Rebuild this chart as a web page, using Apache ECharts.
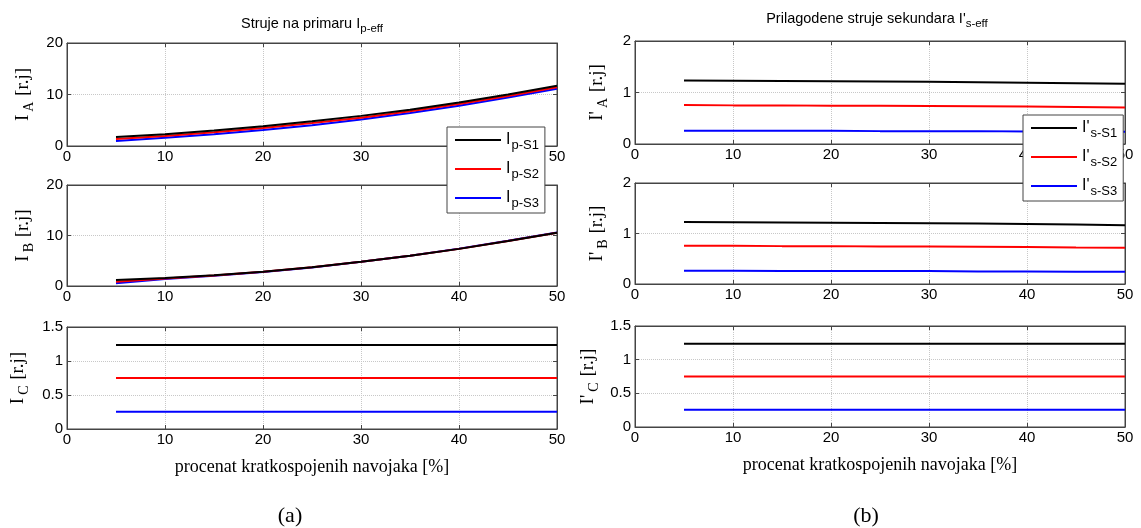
<!DOCTYPE html>
<html><head><meta charset="utf-8">
<script src="https://cdn.jsdelivr.net/npm/echarts@6/dist/echarts.min.js"></script>
<style>html,body{margin:0;padding:0;background:#fff}#c{width:1141px;height:528px}</style>
</head><body><div id="c"></div>
<script>
// ---- data ----
const xs = [5, 10, 15, 20, 25, 30, 35, 40, 45, 50];
const xTicks = [0, 10, 20, 30, 40, 50];
const leftNames = ['I|p-S1', 'I|p-S2', 'I|p-S3'];
const rightNames = ["I'|s-S1", "I'|s-S2", "I'|s-S3"];
// left: primary currents
const pA_S1 = [1.75, 2.3, 3.0, 3.85, 4.8, 5.85, 7.05, 8.45, 10.0, 11.7];
const pA_S2 = [1.35, 1.95, 2.65, 3.5, 4.45, 5.5, 6.75, 8.15, 9.7, 11.4];
const pA_S3 = [0.95, 1.6, 2.3, 3.1, 4.05, 5.15, 6.4, 7.8, 9.4, 11.1];
const pB_S1 = [1.2, 1.6, 2.15, 2.8, 3.7, 4.8, 6.0, 7.35, 8.9, 10.55];
const pB_S2 = [0.85, 1.5, 2.1, 2.8, 3.7, 4.8, 6.0, 7.35, 8.9, 10.55];
const pB_S3 = [0.55, 1.4, 2.05, 2.75, 3.65, 4.8, 6.0, 7.4, 8.95, 10.6];
const pC_S1 = [1.235, 1.235, 1.235, 1.235, 1.235, 1.235, 1.235, 1.235, 1.235, 1.235];
const pC_S2 = [0.75, 0.75, 0.75, 0.75, 0.75, 0.75, 0.75, 0.75, 0.75, 0.75];
const pC_S3 = [0.255, 0.255, 0.255, 0.255, 0.255, 0.255, 0.255, 0.255, 0.255, 0.255];
// right: adjusted secondary currents
const sA_S1 = [1.235, 1.23, 1.225, 1.22, 1.215, 1.21, 1.2, 1.19, 1.18, 1.17];
const sA_S2 = [0.755, 0.75, 0.75, 0.745, 0.745, 0.74, 0.735, 0.73, 0.72, 0.71];
const sA_S3 = [0.255, 0.255, 0.255, 0.255, 0.25, 0.25, 0.25, 0.245, 0.245, 0.24];
const sB_S1 = [1.23, 1.225, 1.22, 1.215, 1.21, 1.205, 1.2, 1.19, 1.18, 1.165];
const sB_S2 = [0.755, 0.755, 0.75, 0.75, 0.745, 0.745, 0.74, 0.735, 0.725, 0.72];
const sB_S3 = [0.26, 0.26, 0.255, 0.255, 0.255, 0.255, 0.25, 0.25, 0.245, 0.245];
const sC_S1 = [1.235, 1.235, 1.235, 1.235, 1.235, 1.235, 1.235, 1.235, 1.235, 1.235];
const sC_S2 = [0.75, 0.75, 0.75, 0.75, 0.75, 0.75, 0.75, 0.75, 0.75, 0.75];
const sC_S3 = [0.255, 0.255, 0.255, 0.255, 0.255, 0.255, 0.255, 0.255, 0.255, 0.255];
const colors = ['#000000', '#ff0000', '#0000ff'];

// ---- layout ----
const panels = [
  {left: 67, top: 43, h: 103, max: 20, iv: 10, sub: 'A', prime: false, gap: 31, data: [pA_S1, pA_S2, pA_S3], names: leftNames, xname: false},
  {left: 67, top: 185, h: 101, max: 20, iv: 10, sub: 'B', prime: false, gap: 31, data: [pB_S1, pB_S2, pB_S3], names: leftNames, xname: false},
  {left: 67, top: 327, h: 102, max: 1.5, iv: 0.5, sub: 'C', prime: false, gap: 36, data: [pC_S1, pC_S2, pC_S3], names: leftNames, xname: true},
  {left: 635, top: 41, h: 103, max: 2, iv: 1, sub: 'A', prime: true, gap: 25, data: [sA_S1, sA_S2, sA_S3], names: rightNames, xname: false},
  {left: 635, top: 183, h: 101, max: 2, iv: 1, sub: 'B', prime: true, gap: 25, data: [sB_S1, sB_S2, sB_S3], names: rightNames, xname: false},
  {left: 635, top: 326, h: 101, max: 1.5, iv: 0.5, sub: 'C', prime: true, gap: 34, data: [sC_S1, sC_S2, sC_S3], names: rightNames, xname: true}
];
const axisCol = '#444';
const sans = 'Liberation Sans, Arial, sans-serif';
const serif = 'Liberation Serif, Times New Roman, serif';
const grid = [], xAxis = [], yAxis = [], series = [];
panels.forEach((p, i) => {
  grid.push({left: p.left, top: p.top, width: 490, height: p.h, show: true, borderColor: axisCol, borderWidth: 1, containLabel: false});
  xAxis.push({type: 'value', gridIndex: i, min: 0, max: 50, interval: 10, position: 'bottom',
    axisLine: {show: true, onZero: false, lineStyle: {color: axisCol}},
    axisTick: {show: true, inside: true, length: 4, lineStyle: {color: axisCol}},
    axisLabel: {color: '#000', fontSize: 15, fontFamily: sans, margin: 3},
    splitLine: {show: true, lineStyle: {color: '#c8c8c8', type: 'dotted'}},
    name: p.xname ? 'procenat kratkospojenih navojaka [%]' : '', nameLocation: 'middle', nameGap: 29,
    nameTextStyle: {fontFamily: serif, fontSize: 18, color: '#000'}});
  xAxis.push({type: 'value', gridIndex: i, min: 0, max: 50, interval: 10, position: 'top',
    axisLine: {show: true, onZero: false, lineStyle: {color: axisCol}},
    axisTick: {show: true, inside: true, length: 4, lineStyle: {color: axisCol}},
    axisLabel: {show: false}, splitLine: {show: false}});
  const nm = (p.prime ? "{n|I'}" : '{n|I}') + '{s|' + p.sub + '}{n| [r.j]}';
  yAxis.push({type: 'value', gridIndex: i, min: 0, max: p.max, interval: p.iv, position: 'left',
    axisLine: {show: true, onZero: false, lineStyle: {color: axisCol}},
    axisTick: {show: true, inside: true, length: 4, lineStyle: {color: axisCol}},
    axisLabel: {color: '#000', fontSize: 15, fontFamily: sans, margin: 4},
    splitLine: {show: true, lineStyle: {color: '#c8c8c8', type: 'dotted'}},
    name: nm, nameLocation: 'middle', nameGap: p.gap, nameRotate: 90,
    nameTextStyle: {fontFamily: serif, fontSize: 19, color: '#000',
      rich: {n: {fontFamily: serif, fontSize: 19, color: '#000'},
             s: {fontFamily: serif, fontSize: 14, color: '#000', padding: [12, 1, 0, 3]}}}});
  yAxis.push({type: 'value', gridIndex: i, min: 0, max: p.max, interval: p.iv, position: 'right',
    axisLine: {show: true, onZero: false, lineStyle: {color: axisCol}},
    axisTick: {show: true, inside: true, length: 4, lineStyle: {color: axisCol}},
    axisLabel: {show: false}, splitLine: {show: false}});
  p.data.forEach((arr, k) => {
    series.push({type: 'line', name: p.names[k], xAxisIndex: 2 * i, yAxisIndex: 2 * i,
      data: xs.map((x, j) => [x, arr[j]]), symbol: 'none', smooth: false,
      lineStyle: {color: colors[k], width: 2}, itemStyle: {color: colors[k]}, z: 5 - k});
  });
});
const legFmt = name => {
  const parts = name.split('|');
  return '{m|' + parts[0] + '}{s|' + parts[1] + '}';
};
const legRich = {m: {fontFamily: sans, fontSize: 16, color: '#000'},
                 s: {fontFamily: sans, fontSize: 13, color: '#000', padding: [11, 0, 0, 1]}};
const mkLegend = (names, left, top) => ({
  data: names, orient: 'vertical', left: left, top: top, itemWidth: 46, itemHeight: 14, itemGap: 9,
  backgroundColor: '#fff', borderColor: axisCol, borderWidth: 1, padding: [5, 6, 3, 8],
  formatter: legFmt, textStyle: {rich: legRich}, selectedMode: false, z: 10, icon: 'path://M0,0 L46,0 L46,2 L0,2 Z'
});
const option = {
  animation: false,
  backgroundColor: '#fff',
  grid, xAxis, yAxis, series,
  legend: [mkLegend(leftNames, 447, 127), mkLegend(rightNames, 1023, 115)],
  graphic: [
    {type: 'text', x: 312, y: 13, style: {text: '{t|Struje na primaru I}{u|p-eff}', align: 'center',
      rich: {t: {fontFamily: sans, fontSize: 14.5, fill: '#000'}, u: {fontFamily: sans, fontSize: 11.5, fill: '#000', padding: [10, 0, 0, 0]}}}},
    {type: 'text', x: 877, y: 8, style: {text: "{t|Prilagodene struje sekundara I'}{u|s-eff}", align: 'center',
      rich: {t: {fontFamily: sans, fontSize: 14.5, fill: '#000'}, u: {fontFamily: sans, fontSize: 11.5, fill: '#000', padding: [10, 0, 0, 0]}}}},
    {type: 'text', x: 290, y: 505, style: {text: '(a)', align: 'center', fontFamily: serif, fontSize: 22, fill: '#000'}},
    {type: 'text', x: 866, y: 505, style: {text: '(b)', align: 'center', fontFamily: serif, fontSize: 22, fill: '#000'}}
  ]
};
echarts.init(document.getElementById('c')).setOption(option);
</script></body></html>
